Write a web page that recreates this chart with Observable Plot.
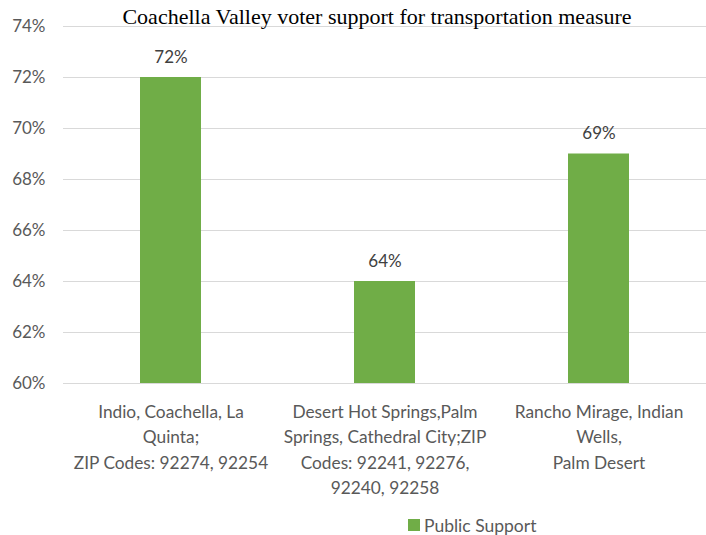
<!DOCTYPE html>
<html><head><meta charset="utf-8">
<script src="https://cdn.jsdelivr.net/npm/d3@7"></script>
<script src="https://cdn.jsdelivr.net/npm/@observablehq/plot@0.6"></script>
<style>
body{margin:0;background:#fff;}
#wrap{position:relative;width:706px;height:535px;font-family:Lato, sans-serif;}
#title{position:absolute;left:377px;top:4px;transform:translateX(-50%);white-space:nowrap;font-family:"Liberation Serif",serif;font-size:22px;color:#000;}
#legend{position:absolute;left:408px;top:515px;height:20px;display:flex;align-items:center;font-family:Lato,sans-serif;font-size:17.5px;color:#595959;}
#legend .sw{width:12px;height:12px;background:#70ad47;margin-right:4px;}
#chart{position:absolute;left:0;top:0;}
</style>
</head><body>
<div id="wrap">
  <div id="chart"></div>
  <div id="title">Coachella Valley voter support for transportation measure</div>
  <div id="legend"><div class="sw"></div><span>Public Support</span></div>
</div>
<script>
const categories = ["A", "B", "C"];
const categoryLabels = [
  "Indio, Coachella, La\nQuinta;\nZIP Codes: 92274, 92254",
  "Desert Hot Springs,Palm\nSprings, Cathedral City;ZIP\nCodes: 92241, 92276,\n92240, 92258",
  "Rancho Mirage, Indian\nWells,\nPalm Desert"
];
const support = [72, 64, 69];
const yTicks = [60, 62, 64, 66, 68, 70, 72, 74];
const yBase = 60;
const seriesName = "Public Support";

const data = categories.map((c, i) => ({cat: c, label: categoryLabels[i], value: support[i]}));

const chart = Plot.plot({
  width: 706,
  height: 505,
  marginLeft: 63,
  marginRight: 0,
  marginTop: 26,
  marginBottom: 122,
  style: {fontFamily: "Lato, sans-serif", fontSize: "17px", color: "#595959", background: "transparent"},
  x: {domain: categories, paddingInner: 0.715, paddingOuter: 0.3575, axis: null},
  y: {domain: [yBase, yTicks[yTicks.length - 1]], axis: null},
  marks: [
    Plot.gridY(yTicks, {stroke: "#d9d9d9", strokeOpacity: 1, strokeWidth: 1}),
    Plot.axisY(yTicks, {tickSize: 0, tickPadding: 18, tickFormat: d => d + "%", fill: "#595959", fontSize: 17, label: null}),
    Plot.barY(data, {x: "cat", y1: yBase, y2: "value", fill: "#70ad47"}),
    Plot.text(data, {x: "cat", y: "value", text: d => d.value + "%", dy: -20, fill: "#404040", fontSize: 17}),
    Plot.text(data, {x: "cat", y: () => yBase, text: "label", lineAnchor: "top", dy: 16, lineHeight: 1.48, fill: "#595959", fontSize: 17.3})
  ]
});
document.getElementById("chart").appendChild(chart);
</script>
</body></html>
